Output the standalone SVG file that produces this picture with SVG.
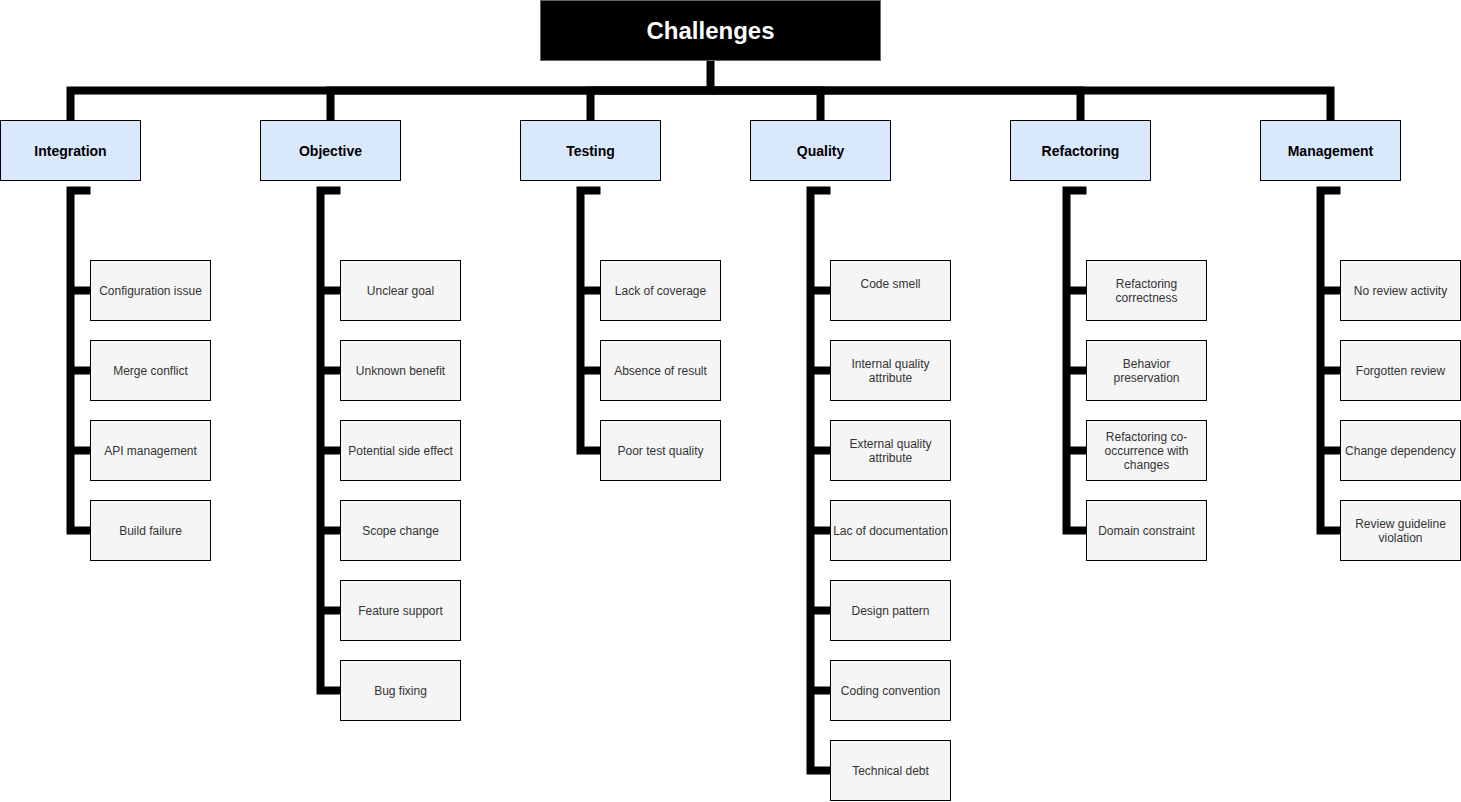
<svg xmlns="http://www.w3.org/2000/svg" width="1461" height="802" viewBox="0 0 1461 802">
<style>
.root rect{fill:#000;stroke:#666;stroke-width:1}
.root text{fill:#fff;font:bold 24px "Liberation Sans",Arial,sans-serif;text-anchor:middle}
.cat rect{fill:#dae8fc;stroke:#000;stroke-width:1}
.cat text{fill:#000;font:bold 14px "Liberation Sans",Arial,sans-serif;text-anchor:middle}
.leaf rect{fill:#f5f5f5;stroke:#000;stroke-width:1}
.leaf text{fill:#333;font:12px "Liberation Sans",Arial,sans-serif;text-anchor:middle}
.edges path{fill:none;stroke:#000;stroke-width:8;stroke-linejoin:miter;stroke-linecap:butt}
</style>
<rect width="1461" height="802" fill="#fff"/>
<g transform="translate(0.5,0.5)">
<g class="edges" id="connectors">
<path d="M710 60V90H70V120"/>
<path d="M710 90H330V120"/>
<path d="M710 90H590V120"/>
<path d="M710 90H820V120"/>
<path d="M710 90H1080V120"/>
<path d="M710 90H1330V120"/>
<path d="M90 190H70V530H90M70 290H90M70 370H90M70 450H90"/>
<path d="M340 190H320V690H340M320 290H340M320 370H340M320 450H340M320 530H340M320 610H340"/>
<path d="M600 190H580V450H600M580 290H600M580 370H600"/>
<path d="M830 190H810V770H830M810 290H830M810 370H830M810 450H830M810 530H830M810 610H830M810 690H830"/>
<path d="M1086 190H1066V530H1086M1066 290H1086M1066 370H1086M1066 450H1086"/>
<path d="M1340 190H1320V530H1340M1320 290H1340M1320 370H1340M1320 450H1340"/>
</g>
<g id="challenges" class="root"><rect x="540" y="0" width="340" height="60"/><text x="710" y="38.6">Challenges</text></g>
<g id="integration" class="cat"><rect x="0" y="120" width="140" height="60"/><text x="70" y="155.5">Integration</text></g>
<g id="objective" class="cat"><rect x="260" y="120" width="140" height="60"/><text x="330" y="155.5">Objective</text></g>
<g id="testing" class="cat"><rect x="520" y="120" width="140" height="60"/><text x="590" y="155.5">Testing</text></g>
<g id="quality" class="cat"><rect x="750" y="120" width="140" height="60"/><text x="820" y="155.5">Quality</text></g>
<g id="refactoring" class="cat"><rect x="1010" y="120" width="140" height="60"/><text x="1080" y="155.5">Refactoring</text></g>
<g id="management" class="cat"><rect x="1260" y="120" width="140" height="60"/><text x="1330" y="155.5">Management</text></g>

<g id="configuration-issue" class="leaf"><rect x="90" y="260" width="120" height="60"/><text x="150" y="294.5">Configuration issue</text></g>
<g id="merge-conflict" class="leaf"><rect x="90" y="340" width="120" height="60"/><text x="150" y="374.5">Merge conflict</text></g>
<g id="api-management" class="leaf"><rect x="90" y="420" width="120" height="60"/><text x="150" y="454.5">API management</text></g>
<g id="build-failure" class="leaf"><rect x="90" y="500" width="120" height="60"/><text x="150" y="534.5">Build failure</text></g>

<g id="unclear-goal" class="leaf"><rect x="340" y="260" width="120" height="60"/><text x="400" y="294.5">Unclear goal</text></g>
<g id="unknown-benefit" class="leaf"><rect x="340" y="340" width="120" height="60"/><text x="400" y="374.5">Unknown benefit</text></g>
<g id="potential-side-effect" class="leaf"><rect x="340" y="420" width="120" height="60"/><text x="400" y="454.5">Potential side effect</text></g>
<g id="scope-change" class="leaf"><rect x="340" y="500" width="120" height="60"/><text x="400" y="534.5">Scope change</text></g>
<g id="feature-support" class="leaf"><rect x="340" y="580" width="120" height="60"/><text x="400" y="614.5">Feature support</text></g>
<g id="bug-fixing" class="leaf"><rect x="340" y="660" width="120" height="60"/><text x="400" y="694.5">Bug fixing</text></g>

<g id="lack-of-coverage" class="leaf"><rect x="600" y="260" width="120" height="60"/><text x="660" y="294.5">Lack of coverage</text></g>
<g id="absence-of-result" class="leaf"><rect x="600" y="340" width="120" height="60"/><text x="660" y="374.5">Absence of result</text></g>
<g id="poor-test-quality" class="leaf"><rect x="600" y="420" width="120" height="60"/><text x="660" y="454.5">Poor test quality</text></g>

<g id="code-smell" class="leaf"><rect x="830" y="260" width="120" height="60"/><text x="890" y="287.5">Code smell</text></g>
<g id="internal-quality" class="leaf"><rect x="830" y="340" width="120" height="60"/><text x="890" y="367.5">Internal quality</text><text x="890" y="381.5">attribute</text></g>
<g id="external-quality" class="leaf"><rect x="830" y="420" width="120" height="60"/><text x="890" y="447.5">External quality</text><text x="890" y="461.5">attribute</text></g>
<g id="lac-of-documentation" class="leaf"><rect x="830" y="500" width="120" height="60"/><text x="890" y="534.5">Lac of documentation</text></g>
<g id="design-pattern" class="leaf"><rect x="830" y="580" width="120" height="60"/><text x="890" y="614.5">Design pattern</text></g>
<g id="coding-convention" class="leaf"><rect x="830" y="660" width="120" height="60"/><text x="890" y="694.5">Coding convention</text></g>
<g id="technical-debt" class="leaf"><rect x="830" y="740" width="120" height="60"/><text x="890" y="774.5">Technical debt</text></g>

<g id="refactoring-correctness" class="leaf"><rect x="1086" y="260" width="120" height="60"/><text x="1146" y="287.5">Refactoring</text><text x="1146" y="301.5">correctness</text></g>
<g id="behavior-preservation" class="leaf"><rect x="1086" y="340" width="120" height="60"/><text x="1146" y="367.5">Behavior</text><text x="1146" y="381.5">preservation</text></g>
<g id="refactoring-cooccurrence" class="leaf"><rect x="1086" y="420" width="120" height="60"/><text x="1146" y="440.5">Refactoring co-</text><text x="1146" y="454.5">occurrence with</text><text x="1146" y="468.5">changes</text></g>
<g id="domain-constraint" class="leaf"><rect x="1086" y="500" width="120" height="60"/><text x="1146" y="534.5">Domain constraint</text></g>

<g id="no-review-activity" class="leaf"><rect x="1340" y="260" width="120" height="60"/><text x="1400" y="294.5">No review activity</text></g>
<g id="forgotten-review" class="leaf"><rect x="1340" y="340" width="120" height="60"/><text x="1400" y="374.5">Forgotten review</text></g>
<g id="change-dependency" class="leaf"><rect x="1340" y="420" width="120" height="60"/><text x="1400" y="454.5">Change dependency</text></g>
<g id="review-guideline-violation" class="leaf"><rect x="1340" y="500" width="120" height="60"/><text x="1400" y="527.5">Review guideline</text><text x="1400" y="541.5">violation</text></g>
</g>
</svg>
